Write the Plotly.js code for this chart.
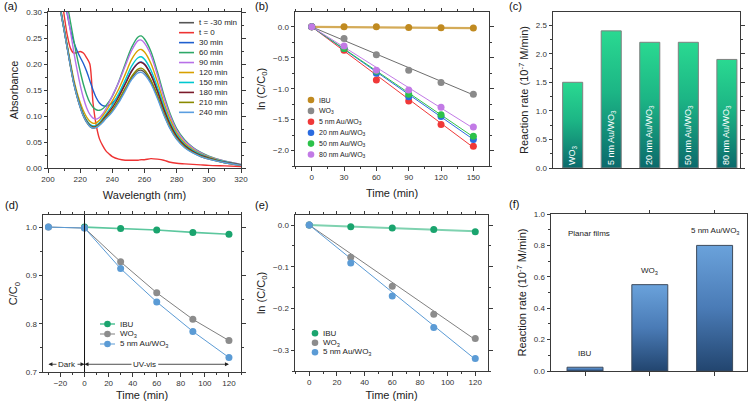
<!DOCTYPE html>
<html>
<head>
<meta charset="utf-8">
<script src="https://cdn.plot.ly/plotly-3.0.1.min.js"></script>
<style>
html, body { margin: 0; padding: 0; background: #fff; }
#fig { width: 748px; height: 401px; }
</style>
</head>
<body>
<div id="fig"></div>
<script>
// ---------- (a) UV-vis spectra ----------
const wavelength = [206,208,210,212,214,216,218,220,222,224,226,228,230,232,234,236,238,240,244,248,252,256,258,260,264,268,272,276,280,285,290,295,300,310,320];
const specNames  = ['t = -30 min','t = 0','30 min','60 min','90 min','120 min','150 min','180 min','210 min','240 min'];
const specColors = ['#555555','#ee3333','#1f5fcf','#2ea868','#b870e8','#d8a000','#00c8d0','#7b1a2a','#8a8a00','#5a9ee0'];
const absTm30 = [0.36,0.30,0.265,0.23,0.195,0.163,0.138,0.117,0.100,0.088,0.080,0.077,0.078,0.083,0.089,0.096,0.103,0.110,0.128,0.151,0.173,0.187,0.188,0.184,0.165,0.137,0.104,0.076,0.056,0.040,0.030,0.022,0.017,0.010,0.005];
const absT0   = [0.40,0.34,0.295,0.255,0.230,0.221,0.222,0.224,0.221,0.212,0.200,0.125,0.082,0.056,0.043,0.033,0.027,0.022,0.017,0.015,0.015,0.015,0.016,0.016,0.018,0.017,0.015,0.011,0.009,0.008,0.007,0.006,0.005,0.004,0.003];
const abs30   = [0.42,0.37,0.33,0.295,0.265,0.243,0.226,0.213,0.201,0.186,0.168,0.150,0.135,0.125,0.120,0.119,0.121,0.125,0.140,0.163,0.187,0.202,0.204,0.200,0.180,0.149,0.114,0.084,0.062,0.044,0.032,0.024,0.019,0.011,0.006];
const abs60   = [0.44,0.40,0.355,0.315,0.28,0.246,0.214,0.186,0.161,0.141,0.126,0.117,0.112,0.111,0.114,0.120,0.128,0.138,0.166,0.200,0.232,0.252,0.254,0.248,0.224,0.185,0.141,0.104,0.076,0.054,0.040,0.030,0.023,0.013,0.007];
const abs90   = [0.42,0.38,0.34,0.30,0.262,0.224,0.190,0.160,0.135,0.116,0.103,0.096,0.094,0.097,0.104,0.114,0.126,0.139,0.165,0.196,0.226,0.245,0.246,0.240,0.217,0.179,0.136,0.100,0.073,0.052,0.039,0.029,0.022,0.013,0.007];
const abs120  = [0.36,0.305,0.27,0.236,0.202,0.171,0.146,0.126,0.110,0.098,0.090,0.086,0.087,0.092,0.100,0.109,0.119,0.129,0.152,0.180,0.209,0.226,0.228,0.223,0.201,0.166,0.126,0.093,0.068,0.048,0.036,0.027,0.021,0.012,0.006];
const abs150  = [0.36,0.303,0.268,0.233,0.198,0.166,0.141,0.120,0.104,0.092,0.084,0.081,0.082,0.087,0.095,0.103,0.112,0.121,0.143,0.169,0.196,0.212,0.214,0.209,0.188,0.156,0.119,0.087,0.064,0.045,0.034,0.026,0.020,0.012,0.006];
const abs180  = [0.36,0.302,0.267,0.232,0.197,0.165,0.140,0.119,0.102,0.090,0.082,0.079,0.080,0.085,0.092,0.100,0.108,0.116,0.137,0.161,0.186,0.201,0.203,0.199,0.179,0.148,0.113,0.083,0.061,0.043,0.032,0.024,0.019,0.011,0.006];
const abs210  = [0.36,0.30,0.266,0.231,0.196,0.164,0.139,0.118,0.101,0.089,0.081,0.078,0.079,0.084,0.090,0.097,0.104,0.111,0.131,0.153,0.176,0.190,0.192,0.188,0.169,0.140,0.106,0.078,0.057,0.041,0.030,0.023,0.018,0.010,0.005];
const abs240  = [0.36,0.30,0.265,0.23,0.195,0.163,0.138,0.117,0.100,0.088,0.080,0.077,0.078,0.082,0.088,0.095,0.101,0.108,0.126,0.148,0.170,0.183,0.184,0.180,0.162,0.134,0.102,0.075,0.055,0.039,0.029,0.022,0.017,0.010,0.005];
const spectra = [absTm30, absT0, abs30, abs60, abs90, abs120, abs150, abs180, abs210, abs240];

// ---------- (b) kinetics, porous films ----------
const timeB   = [0,30,60,90,120,150];
const namesB  = ['IBU','WO<sub>3</sub>','5 nm Au/WO<sub>3</sub>','20 nm Au/WO<sub>3</sub>','50 nm Au/WO<sub>3</sub>','80 nm Au/WO<sub>3</sub>'];
const colorsB = ['#c08a20','#8a8a8a','#f03838','#2a6be0','#2cc24a','#c27ae6'];
const fitColorsB = ['#d4ab58','#6e6e6e','#f03838','#2a6be0','#2cc24a','#c27ae6'];
const lnB_IBU  = [0,0,0,-0.01,-0.015,-0.02];
const lnB_WO3  = [0,-0.19,-0.45,-0.70,-0.90,-1.09];
const lnB_5nm  = [0,-0.38,-0.86,-1.20,-1.58,-1.93];
const lnB_20nm = [0,-0.35,-0.75,-1.13,-1.45,-1.82];
const lnB_50nm = [0,-0.35,-0.72,-1.09,-1.42,-1.77];
const lnB_80nm = [0,-0.31,-0.70,-1.02,-1.30,-1.62];
const fitTimeB = [0,150];
const fitB_IBU = [0,-0.02];
const fitB_WO3 = [0,-1.10];
const fitB_5nm = [0,-1.95];
const fitB_20nm = [0,-1.82];
const fitB_50nm = [0,-1.78];
const fitB_80nm = [0,-1.64];
const seriesB = [lnB_IBU, lnB_WO3, lnB_5nm, lnB_20nm, lnB_50nm, lnB_80nm];
const fitsB = [fitB_IBU, fitB_WO3, fitB_5nm, fitB_20nm, fitB_50nm, fitB_80nm];

// ---------- (c) reaction rates, porous films ----------
const catsC  = ['WO<sub>3</sub>','5 nm Au/WO<sub>3</sub>','20 nm Au/WO<sub>3</sub>','50 nm Au/WO<sub>3</sub>','80 nm Au/WO<sub>3</sub>'];
const rateC  = [1.5, 2.4, 2.2, 2.2, 1.9];

// ---------- (d) C/C0, planar films ----------
const timeD   = [-30,0,30,60,90,120];
const namesD  = ['IBU','WO<sub>3</sub>','5 nm Au/WO<sub>3</sub>'];
const markD   = ['#1aa46e','#8c8c8c','#5b9bd5'];
const lineD   = ['#5cc79e','#808080','#5b9bd5'];
const ccD_IBU = [null,1.0,0.997,0.994,0.989,0.985];
const ccD_WO3 = [1.0,0.998,0.928,0.864,0.809,0.765];
const ccD_5nm = [1.0,0.998,0.914,0.845,0.784,0.730];
const seriesD = [ccD_IBU, ccD_WO3, ccD_5nm];

// ---------- (e) ln(C/C0), planar films ----------
const timeE   = [0,30,60,90,120];
const lnE_IBU = [0,-0.004,-0.007,-0.011,-0.016];
const lnE_WO3 = [0,-0.077,-0.147,-0.214,-0.272];
const lnE_5nm = [0,-0.091,-0.170,-0.246,-0.320];
const fitTimeE = [0,120];
const fitE_IBU = [0,-0.015];
const fitE_WO3 = [0,-0.275];
const fitE_5nm = [0,-0.322];
const seriesE = [lnE_IBU, lnE_WO3, lnE_5nm];
const fitsE = [fitE_IBU, fitE_WO3, fitE_5nm];

// ---------- (f) reaction rates, planar films ----------
const catsF = ['IBU','WO<sub>3</sub>','5 nm Au/WO<sub>3</sub>'];
const rateF = [0.024, 0.55, 0.80];

// ---------- layout helpers (pixel -> paper) ----------
const W = 748, H = 401;
const px = x => x / W;
const py = y => 1 - y / H;
const FONT = 'Liberation Sans, Arial, sans-serif';
const INK = '#333';

function axis(dom, extra) {
  return Object.assign({
    domain: dom,
    showline: true, linecolor: '#3a3a3a', linewidth: 1, mirror: 'allticks',
    ticks: 'outside', ticklen: 3.5, tickwidth: 1, tickcolor: '#3a3a3a',
    tickfont: { size: 8, color: INK, family: FONT },
    showgrid: false, zeroline: false,
    minor: { ticks: 'outside', ticklen: 2, tickwidth: 1, tickcolor: '#3a3a3a', showgrid: false }
  }, extra);
}
function ttl(text, standoff) {
  return { text: text, font: { size: 11, color: '#222', family: FONT }, standoff: standoff };
}

const data = [];
const annotations = [];
const shapes = [];

// (a)
spectra.forEach((s, i) => {
  data.push({ x: wavelength, y: s, xaxis: 'x', yaxis: 'y', mode: 'lines',
    line: { color: specColors[i], width: 1.4, shape: 'spline', smoothing: 0.8 }, showlegend: false });
});
specNames.forEach((n, i) => {
  const yy = 22.7 + 9.96 * i;
  shapes.push({ type: 'line', xref: 'paper', yref: 'paper', x0: px(179), x1: px(194), y0: py(yy), y1: py(yy),
    line: { color: specColors[i], width: 1.6 } });
  annotations.push({ xref: 'paper', yref: 'paper', x: px(197), y: py(yy), xanchor: 'left', yanchor: 'middle',
    text: n, showarrow: false, font: { size: 8, color: '#222', family: FONT } });
});

// (b)
seriesB.forEach((s, i) => {
  data.push({ x: fitTimeB, y: fitsB[i], xaxis: 'x2', yaxis: 'y2', mode: 'lines',
    line: { color: fitColorsB[i], width: i === 0 ? 2.2 : 1 }, showlegend: false });
});
seriesB.forEach((s, i) => {
  data.push({ x: timeB, y: s, xaxis: 'x2', yaxis: 'y2', mode: 'markers',
    marker: { color: colorsB[i], size: 7 }, showlegend: false });
});
namesB.forEach((n, i) => {
  const yy = 100 + 10.9 * i;
  shapes.push({ type: 'circle', xref: 'paper', yref: 'paper', xsizemode: 'pixel', ysizemode: 'pixel',
    xanchor: px(311), yanchor: py(yy), x0: -3.3, x1: 3.3, y0: -3.3, y1: 3.3,
    fillcolor: colorsB[i], line: { width: 0 } });
  annotations.push({ xref: 'paper', yref: 'paper', x: px(317), y: py(yy), xanchor: 'left', yanchor: 'middle',
    text: n, showarrow: false, font: { size: 7, color: '#222', family: FONT } });
});

// (c)
data.push({ type: 'bar', x: catsC, y: rateC, xaxis: 'x3', yaxis: 'y3', width: 0.52,
  marker: { color: '#1fb584', line: { color: '#808080', width: 1 } },
  text: catsC, textposition: 'inside', insidetextanchor: 'start', textangle: -90, constraintext: 'none',
  textfont: { size: 9, color: '#ffffff', family: FONT }, showlegend: false });

// (d)
seriesD.forEach((s, i) => {
  data.push({ x: timeD, y: s, xaxis: 'x4', yaxis: 'y4', mode: 'lines+markers',
    line: { color: lineD[i], width: i === 0 ? 1.6 : 1 }, marker: { color: markD[i], size: 7 }, showlegend: false });
});
namesD.forEach((n, i) => {
  const yy = 324 + 10 * i;
  shapes.push({ type: 'line', xref: 'paper', yref: 'paper', x0: px(100), x1: px(115), y0: py(yy), y1: py(yy),
    line: { color: lineD[i], width: i === 0 ? 1.6 : 1 } });
  shapes.push({ type: 'circle', xref: 'paper', yref: 'paper', xsizemode: 'pixel', ysizemode: 'pixel',
    xanchor: px(107.5), yanchor: py(yy), x0: -3.3, x1: 3.3, y0: -3.3, y1: 3.3,
    fillcolor: markD[i], line: { width: 0 } });
  annotations.push({ xref: 'paper', yref: 'paper', x: px(118), y: py(yy), xanchor: 'left', yanchor: 'middle',
    text: n, showarrow: false, font: { size: 8, color: '#222', family: FONT } });
});
shapes.push({ type: 'line', xref: 'x4', yref: 'y4 domain', x0: 0, x1: 0, y0: 0, y1: 1, line: { color: '#111', width: 1 } });
const arrowY = 0.716;
[[-30, -15], [0, -15], [0, 60], [120, 60]].forEach(p => {
  annotations.push({ xref: 'x4', yref: 'y4', axref: 'x4', ayref: 'y4', x: p[0], y: arrowY, ax: p[1], ay: arrowY,
    text: '', showarrow: true, arrowhead: 2, arrowsize: 1, arrowwidth: 0.8, arrowcolor: '#222' });
});
annotations.push({ xref: 'x4', yref: 'y4', x: -14.5, y: arrowY, text: 'Dark', showarrow: false, bgcolor: '#fff',
  font: { size: 8, color: '#222', family: FONT } });
annotations.push({ xref: 'x4', yref: 'y4', x: 50, y: arrowY, text: 'UV-vis', showarrow: false, bgcolor: '#fff',
  font: { size: 8, color: '#222', family: FONT } });

// (e)
seriesE.forEach((s, i) => {
  data.push({ x: fitTimeE, y: fitsE[i], xaxis: 'x5', yaxis: 'y5', mode: 'lines',
    line: { color: i === 0 ? '#7fd2b0' : lineD[i], width: i === 0 ? 2 : 1 }, showlegend: false });
});
seriesE.forEach((s, i) => {
  data.push({ x: timeE, y: s, xaxis: 'x5', yaxis: 'y5', mode: 'markers',
    marker: { color: markD[i], size: 7 }, showlegend: false });
});
namesD.forEach((n, i) => {
  const yy = 333.3 + 9.5 * i;
  shapes.push({ type: 'circle', xref: 'paper', yref: 'paper', xsizemode: 'pixel', ysizemode: 'pixel',
    xanchor: px(315), yanchor: py(yy), x0: -3.3, x1: 3.3, y0: -3.3, y1: 3.3,
    fillcolor: markD[i], line: { width: 0 } });
  annotations.push({ xref: 'paper', yref: 'paper', x: px(321), y: py(yy), xanchor: 'left', yanchor: 'middle',
    text: n, showarrow: false, font: { size: 8, color: '#222', family: FONT } });
});

// (f)
data.push({ type: 'bar', x: catsF, y: rateF, xaxis: 'x6', yaxis: 'y6', width: 0.555,
  marker: { color: '#4a7ab3', line: { color: '#3c4a5c', width: 1 } }, showlegend: false });
catsF.forEach((c, i) => {
  annotations.push({ xref: 'x6', yref: 'y6', x: c, y: rateF[i], yanchor: 'bottom', yshift: 7,
    text: c, showarrow: false, font: { size: 8, color: '#222', family: FONT } });
});
annotations.push({ xref: 'paper', yref: 'paper', x: px(566), y: py(233), xanchor: 'left', yanchor: 'middle',
  text: 'Planar films', showarrow: false, font: { size: 8, color: '#222', family: FONT } });

// panel letters
[['(a)', 2, 6], ['(b)', 253, 6], ['(c)', 507, 6], ['(d)', 3, 205], ['(e)', 253, 205], ['(f)', 507, 204]].forEach(l => {
  annotations.push({ xref: 'paper', yref: 'paper', x: px(l[1]), y: py(l[2]), xanchor: 'left', yanchor: 'middle',
    text: l[0], showarrow: false, font: { size: 11, color: '#111', family: FONT } });
});

const layout = {
  width: W, height: H, margin: { l: 0, r: 0, t: 0, b: 0 },
  paper_bgcolor: '#fff', plot_bgcolor: '#fff', showlegend: false,
  font: { family: FONT, color: INK },
  xaxis:  axis([px(48), px(241)], { range: [200, 320], dtick: 20, minor: { ticks: 'outside', ticklen: 2, dtick: 10, tickcolor: '#3a3a3a' }, anchor: 'y', title: ttl('Wavelength (nm)', 8) }),
  yaxis:  axis([py(168), py(12)], { range: [0, 0.30], dtick: 0.05, tickformat: '.2f', anchor: 'x', title: ttl('Absorbance', 5),
            minor: { ticks: 'outside', ticklen: 2, dtick: 0.025, tickcolor: '#3a3a3a' } }),
  xaxis2: axis([px(295), px(489)], { range: [-15.5, 164.5], dtick: 30, anchor: 'y2', title: ttl('Time (min)', 8),
            minor: { ticks: 'outside', ticklen: 2, dtick: 15, tickcolor: '#3a3a3a' } }),
  yaxis2: axis([py(166), py(12)], { range: [-2.25, 0.24], dtick: 0.5, tickformat: '.1f', anchor: 'x2', title: ttl('ln (C/C<sub>0</sub>)', 5),
            minor: { ticks: 'outside', ticklen: 2, dtick: 0.25, tickcolor: '#3a3a3a' } }),
  xaxis3: axis([px(553), px(740)], { range: [-0.51, 4.34], anchor: 'y3', showticklabels: false, ticks: '', minor: { ticks: '' } }),
  yaxis3: axis([py(168), py(12)], { range: [0, 2.73], dtick: 0.5, tickformat: '.1f', anchor: 'x3', title: ttl('Reaction rate (10<sup>-7</sup> M/min)', 4),
            minor: { ticks: 'outside', ticklen: 2, dtick: 0.25, tickcolor: '#3a3a3a' } }),
  xaxis4: axis([px(43), px(241)], { range: [-34.5, 130], dtick: 20, anchor: 'y4', title: ttl('Time (min)', 8),
            minor: { ticks: 'outside', ticklen: 2, dtick: 10, tickcolor: '#3a3a3a' } }),
  yaxis4: axis([py(372), py(215)], { range: [0.7, 1.025], dtick: 0.1, tickformat: '.1f', anchor: 'x4', title: ttl('C/C<sub>0</sub>', 5),
            minor: { ticks: 'outside', ticklen: 2, dtick: 0.05, tickcolor: '#3a3a3a' } }),
  xaxis5: axis([px(295), px(488)], { range: [-10.3, 129.2], dtick: 20, anchor: 'y5', title: ttl('Time (min)', 8),
            minor: { ticks: 'outside', ticklen: 2, dtick: 10, tickcolor: '#3a3a3a' } }),
  yaxis5: axis([py(371), py(215)], { range: [-0.35, 0.024], dtick: 0.1, tickformat: '.1f', anchor: 'x5', title: ttl('ln (C/C<sub>0</sub>)', 5),
            minor: { ticks: 'outside', ticklen: 2, dtick: 0.05, tickcolor: '#3a3a3a' } }),
  xaxis6: axis([px(551), px(747)], { range: [-0.525, 2.5], anchor: 'y6', showticklabels: false, minor: { ticks: '' } }),
  yaxis6: axis([py(371), py(214)], { range: [0, 1.0], dtick: 0.2, tickformat: '.1f', anchor: 'x6', title: ttl('Reaction rate (10<sup>-7</sup> M/min)', 4),
            minor: { ticks: 'outside', ticklen: 2, dtick: 0.1, tickcolor: '#3a3a3a' } }),
  shapes: shapes,
  annotations: annotations
};

const gd = document.getElementById('fig');
Plotly.newPlot(gd, data, layout, { staticPlot: true, displayModeBar: false }).then(() => {
  // vertical colour gradients on the rate bars
  const NS = 'http://www.w3.org/2000/svg';
  const svg = gd.querySelector('svg.main-svg');
  let defs = svg.querySelector('defs');
  if (!defs) { defs = document.createElementNS(NS, 'defs'); svg.insertBefore(defs, svg.firstChild); }
  function addGrad(id, stops) {
    const g = document.createElementNS(NS, 'linearGradient');
    g.setAttribute('id', id);
    g.setAttribute('x1', '0'); g.setAttribute('y1', '0'); g.setAttribute('x2', '0'); g.setAttribute('y2', '1');
    stops.forEach(s => {
      const st = document.createElementNS(NS, 'stop');
      st.setAttribute('offset', s[0]); st.setAttribute('stop-color', s[1]);
      g.appendChild(st);
    });
    defs.appendChild(g);
  }
  addGrad('gradGreen', [['0', '#2ad991'], ['0.45', '#1cb585'], ['1', '#0b6a6c']]);
  addGrad('gradBlue', [['0', '#6aa2db'], ['0.5', '#4a7bb6'], ['1', '#22456f']]);
  gd.querySelectorAll('.subplot.x3y3 .barlayer .point path').forEach(p => p.style.setProperty('fill', 'url(#gradGreen)'));
  gd.querySelectorAll('.subplot.x6y6 .barlayer .point path').forEach(p => p.style.setProperty('fill', 'url(#gradBlue)'));
});
</script>
</body>
</html>
